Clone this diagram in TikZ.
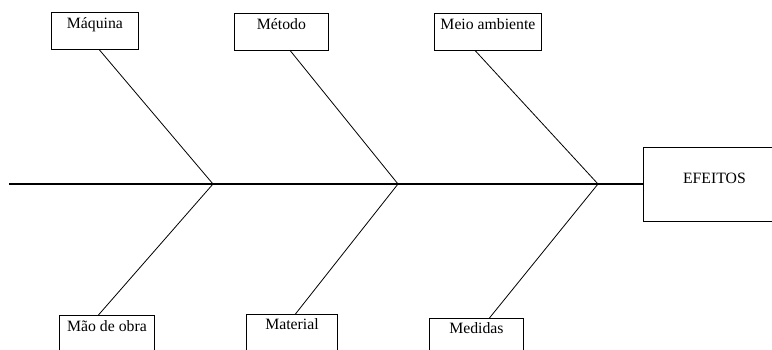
\documentclass[tikz,border=0pt]{standalone}
\usepackage{fontspec}
\setmainfont{Liberation Serif}
\usetikzlibrary{calc}
\begin{document}
\begin{tikzpicture}[x=1pt,y=-1pt,
  cause/.style={draw=black,line width=0.9pt,inner sep=0pt,anchor=north west,
    text height=16pt,text depth=21pt,
    font=\fontsize{15.75}{18}\selectfont},
  effect/.style={draw=black,line width=0.9pt,inner sep=0pt,anchor=north west,
    minimum width=142pt,text height=36pt,text depth=38pt,
    font=\fontsize{15.75}{18}\selectfont},
  bone/.style={draw=black,line width=0.8pt},
  spine/.style={draw=black,line width=2.8pt}]
\clip (0,0) rectangle (772,349);
\fill[white] (0,0) rectangle (772,349);

% cause boxes above the spine
\node[cause,minimum width=87pt] (maq) at (51,12) {Máquina};
\node[cause,minimum width=94pt] (met) at (234,13) {Método};
\node[cause,minimum width=107pt] (amb) at (434,13) {Meio ambiente};

% cause boxes below the spine
\node[cause,minimum width=95pt,text depth=26pt] (mao) at (59,315) {Mão de obra};
\node[cause,minimum width=91pt,text height=15pt,text depth=26pt] (mat) at (246,314) {Material};
\node[cause,minimum width=94pt,text height=15pt,text depth=26pt] (med) at (429,318) {Medidas};

% effect box
\node[effect] (efe) at (643,147) {EFEITOS};

% spine and joints
\coordinate (tail) at (9,184);
\coordinate (j1) at (213,184);
\coordinate (j2) at (398,184);
\coordinate (j3) at (598,184);
\draw[spine] (tail) -- (tail -| efe.west);

% bones
\draw[bone] ($(maq.south)+(4.5,0)$) -- (j1) -- ($(mao.north)+(-8.5,0)$);
\draw[bone] ($(met.south)+(9,0)$) -- (j2) -- ($(mat.north)+(3.5,0)$);
\draw[bone] ($(amb.south)+(-12.5,0)$) -- (j3) -- ($(med.north)+(13,0)$);
\end{tikzpicture}
\end{document}
